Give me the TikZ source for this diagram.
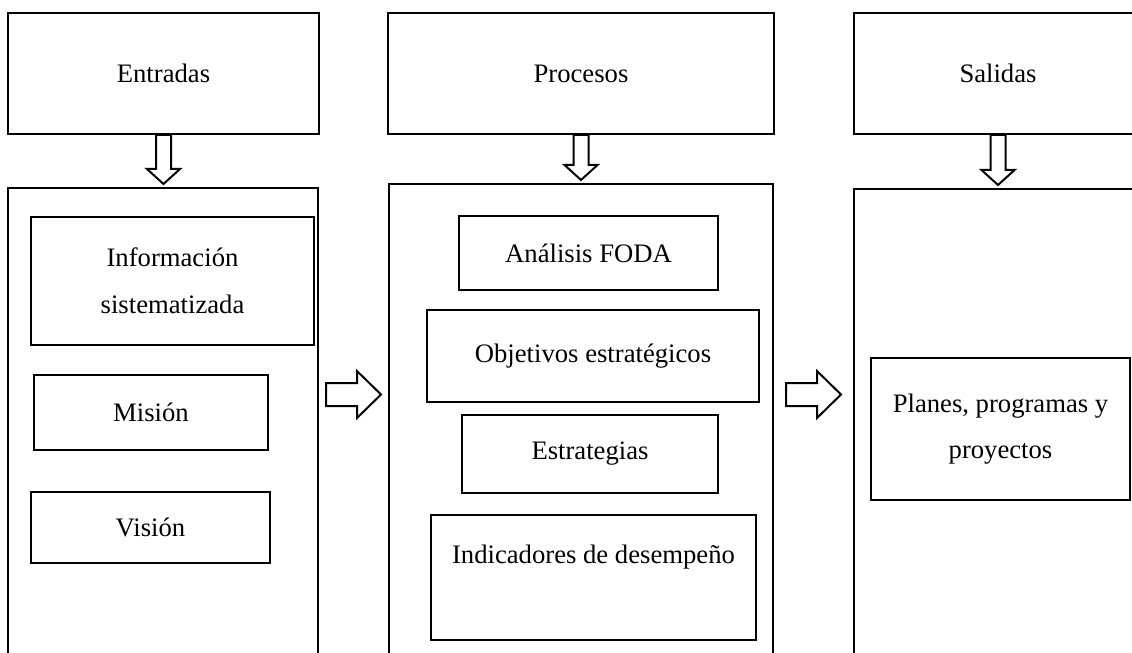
\documentclass[tikz,border=0pt]{standalone}
\usepackage{fontspec}
\setmainfont{Liberation Serif}
\usepackage{tikz}
\usetikzlibrary{calc, positioning}

\def\pxu{0.45pt}

\tikzset{
  caja/.style={draw, line width=0.9pt, align=center, inner sep=0pt,
    font=\fontsize{12}{21}\selectfont},
  marco/.style={draw, line width=0.9pt, inner sep=0pt},
  flecha/.style={draw, line width=0.9pt, fill=white, line join=miter},
}

% flecha hueca hacia abajo, de una cabecera a su columna
\newcommand{\bajar}[2]{%
  \draw[flecha] ($(#1.south)+(-7.5,0)$) -- ($(#1.south)+(7.5,0)$)
    -- ($(#1.south |- #2.north)+(7.5,-18)$) -- ($(#1.south |- #2.north)+(16.5,-18)$)
    -- ($(#1.south |- #2.north)+(0,-3)$) -- ($(#1.south |- #2.north)+(-16.5,-18)$)
    -- ($(#1.south |- #2.north)+(-7.5,-18)$) -- cycle;}

% flecha hueca hacia la derecha, entre dos columnas
\newcommand{\pasar}[2]{%
  \path ($(#1.east)!0.5!(#2.west)$) coordinate (Medio);
  \draw[flecha] ($(Medio |- Fila)+(-27.5,-11.5)$) -- ($(Medio |- Fila)+(3.5,-11.5)$)
    -- ($(Medio |- Fila)+(3.5,-23.5)$) -- ($(Medio |- Fila)+(27.5,0)$)
    -- ($(Medio |- Fila)+(3.5,23.5)$) -- ($(Medio |- Fila)+(3.5,11.5)$)
    -- ($(Medio |- Fila)+(-27.5,11.5)$) -- cycle;}

\begin{document}
\begin{tikzpicture}[x=0.45pt, y=-0.45pt]
  \clip (0,0) rectangle (1132,652);

  % cabeceras
  \node (Entradas) [caja, minimum width=311*\pxu, minimum height=121*\pxu] at (163.5,73.5) {Entradas};
  \node (Procesos) [caja, minimum width=386*\pxu, minimum height=121*\pxu] at (581,73.5) {Procesos};
  \node (Salidas) [caja, minimum width=288*\pxu, minimum height=121*\pxu] at (998,73.5) {Salidas};

  % columnas
  \node (ColEntradas) [marco, minimum width=310*\pxu, minimum height=480*\pxu] at (163,428) {};
  \node (ColProcesos) [marco, minimum width=384*\pxu, minimum height=484*\pxu] at (581,426) {};
  \node (ColSalidas) [marco, minimum width=288*\pxu, minimum height=480*\pxu] at (998,429) {};

  \bajar{Entradas}{ColEntradas}
  \bajar{Procesos}{ColProcesos}
  \bajar{Salidas}{ColSalidas}

  % entradas
  \node (Info) [caja, minimum width=283*\pxu, minimum height=128*\pxu] at (172.5,281) {Información\\sistematizada};
  \node (Mision) [caja, minimum width=234*\pxu, minimum height=75*\pxu] at (151,412.5) {Misión};
  \node (Vision) [caja, minimum width=239*\pxu, minimum height=71*\pxu] at (150.5,527.5) {Visión};

  % procesos
  \node (Foda) [caja, minimum width=259*\pxu, minimum height=74*\pxu] at (588.5,253) {Análisis FODA};
  \node (Objetivos) [caja, minimum width=332*\pxu, minimum height=92*\pxu] at (593,356) {Objetivos estratégicos};
  \node (Estrategias) [caja, minimum width=256*\pxu, minimum height=78*\pxu] at (590,454) {Estrategias};
  \node (Indicadores) [caja, minimum width=325*\pxu, minimum height=125*\pxu] at (593.5,577.5) {Indicadores de desempeño\\\mbox{}};

  % salidas
  \node (Planes) [caja, minimum width=259*\pxu, minimum height=142*\pxu] at (1000.5,429) {Planes, programas y\\proyectos};

  \coordinate (Fila) at (0,394.5);
  \pasar{ColEntradas}{ColProcesos}
  \pasar{ColProcesos}{ColSalidas}
\end{tikzpicture}
\end{document}
